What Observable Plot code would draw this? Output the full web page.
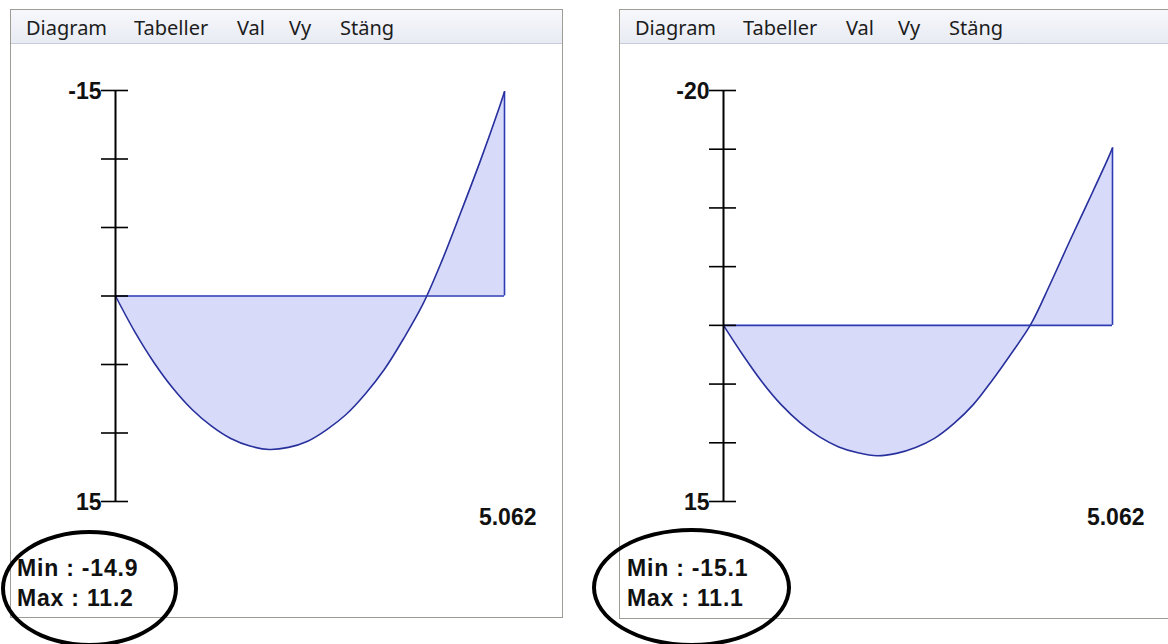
<!DOCTYPE html>
<html>
<head>
<meta charset="utf-8">
<script src="https://cdn.jsdelivr.net/npm/d3@7"></script>
<script src="https://cdn.jsdelivr.net/npm/@observablehq/plot@0.6"></script>
<style>
  body { margin: 0; background: #fff; }
  #page { position: relative; width: 1168px; height: 644px; overflow: hidden; background: #fff; font-family: "Liberation Sans", Arial, sans-serif; }
  .panel { position: absolute; box-sizing: border-box; border: 1px solid #9d9d95; background: #fff; }
  .menu { position: absolute; left: 0; top: 0; right: 0; height: 33px; background: linear-gradient(#f7f8fc, #e8ebf3); border-bottom: 1px solid #c6ccd9; }
  .menu span { position: absolute; top: 8px; font: 20px/20px "Noto Sans", "Open Sans", sans-serif; color: #1c1c1c; white-space: nowrap; }
  .stat { position: absolute; font: bold 23px/23px "Liberation Sans", Arial, sans-serif; letter-spacing: 0.8px; color: #111; white-space: nowrap; }
  .ring { position: absolute; box-sizing: border-box; border: 4px solid #000; border-radius: 50%; }
  .chart { position: absolute; top: 0; }
  .chart svg { overflow: visible; }
</style>
</head>
<body>
<div id="page"></div>
<script>
// ---- data ----
const menuItems = ["Diagram", "Tabeller", "Val", "Vy", "Stäng"];
const menuOffsets = [15, 123, 226, 278, 329];

const xs = [0, 0.25, 0.5, 0.75, 1.0, 1.25, 1.5, 1.75, 2.0, 2.25, 2.5, 2.75, 3.0, 3.25, 3.5, 3.75, 4.0, 4.25, 4.5, 4.75, 5.0, 5.062];
const leftValues  = [0, 2.6, 4.85, 6.75, 8.3, 9.5, 10.4, 10.95, 11.2, 11.05, 10.6, 9.75, 8.65, 7.15, 5.35, 3.1, 0.6, -2.6, -6.2, -9.9, -13.85, -14.9];
const rightValues = [0, 2.5, 4.8, 6.75, 8.3, 9.5, 10.35, 10.85, 11.1, 10.9, 10.4, 9.6, 8.35, 6.75, 4.65, 2.35, -0.1, -3.5, -7.1, -10.6, -14.15, -15.1];

const leftTicks = [-15, -10, -5, 0, 5, 10, 15];
const rightTicks = [-20, -15, -10, -5, 0, 5, 10, 15];
const leftTickLabels = [-15, 15];
const rightTickLabels = [-20, 15];
const spanLabel = "5.062";
const minLabels = [-14.9, -15.1];
const maxLabels = [11.2, 11.1];

// ---- layout ----
const page = document.getElementById("page");
const blue = "#2d3bb5";
const curveBlue = "#27309c";
const fillColor = "#d8dafa";

function panel(left, top, width, height) {
  const p = document.createElement("div");
  p.className = "panel";
  Object.assign(p.style, {left: left + "px", top: top + "px", width: width + "px", height: height + "px"});
  const m = document.createElement("div");
  m.className = "menu";
  menuItems.forEach((t, i) => {
    const s = document.createElement("span");
    s.textContent = t;
    s.style.left = menuOffsets[i] + "px";
    m.appendChild(s);
  });
  p.appendChild(m);
  page.appendChild(p);
}

function chart(left, values, ticks, tickLabels, yDomain) {
  const data = xs.map((x, i) => ({x, v: values[i]}));
  const xEnd = xs[xs.length - 1];
  const vEnd = values[values.length - 1];
  const font = {fontSize: 23, fontWeight: "bold", fontFamily: "Liberation Sans, Arial, sans-serif", fill: "#111"};
  const svg = Plot.plot({
    width: 560,
    height: 540,
    marginLeft: 115,
    marginRight: 56,
    marginTop: 90,
    marginBottom: 39,
    x: {domain: [0, xEnd], axis: null},
    y: {domain: yDomain, reverse: true, axis: null},
    style: {background: "transparent", overflow: "visible"},
    marks: [
      Plot.areaY(data, {x: "x", y: "v", fill: fillColor, curve: "catmull-rom"}),
      Plot.ruleY([0], {x1: 0, x2: xEnd, stroke: blue, strokeWidth: 1.6}),
      Plot.ruleX([xEnd], {y1: 0, y2: vEnd, stroke: blue, strokeWidth: 1.6}),
      Plot.line(data, {x: "x", y: "v", stroke: curveBlue, strokeWidth: 1.6, curve: "catmull-rom"}),
      Plot.ruleX([0], {y1: yDomain[0], y2: yDomain[1], stroke: "#000", strokeWidth: 2}),
      Plot.ruleY(ticks, {y: d => d, x1: 0, x2: 0, insetLeft: -14, insetRight: -13, stroke: "#000", strokeWidth: 1.6}),
      Plot.text(tickLabels, {x: 0, y: d => d, text: d => String(d), dx: -14, dy: 8, textAnchor: "end", lineAnchor: "bottom", ...font, style: "letter-spacing:0.8px"}),
      Plot.text([xEnd], {x: d => d, y: yDomain[1], text: () => spanLabel, dx: 32, dy: 23, textAnchor: "end", lineAnchor: "bottom", ...font})
    ]
  });
  const wrap = document.createElement("div");
  wrap.className = "chart";
  wrap.style.left = left + "px";
  wrap.appendChild(svg);
  page.appendChild(wrap);
}

function stats(left, minV, maxV) {
  const a = document.createElement("div");
  a.className = "stat";
  a.style.left = left + "px";
  a.style.top = "557px";
  a.textContent = "Min : " + minV;
  const b = document.createElement("div");
  b.className = "stat";
  b.style.left = left + "px";
  b.style.top = "587px";
  b.textContent = "Max : " + maxV;
  page.appendChild(a);
  page.appendChild(b);
}

function ring(left, top, w, h) {
  const r = document.createElement("div");
  r.className = "ring";
  Object.assign(r.style, {left: left + "px", top: top + "px", width: w + "px", height: h + "px"});
  page.appendChild(r);
}

panel(10, 9, 553, 609);
panel(619, 9, 560, 610);
chart(0, leftValues, leftTicks, leftTickLabels, [-15, 15]);
chart(608, rightValues, rightTicks, rightTickLabels, [-20, 15]);
stats(17, minLabels[0], maxLabels[0]);
stats(627, minLabels[1], maxLabels[1]);
ring(1, 530, 177, 117);
ring(592, 528, 199, 119);
</script>
</body>
</html>
